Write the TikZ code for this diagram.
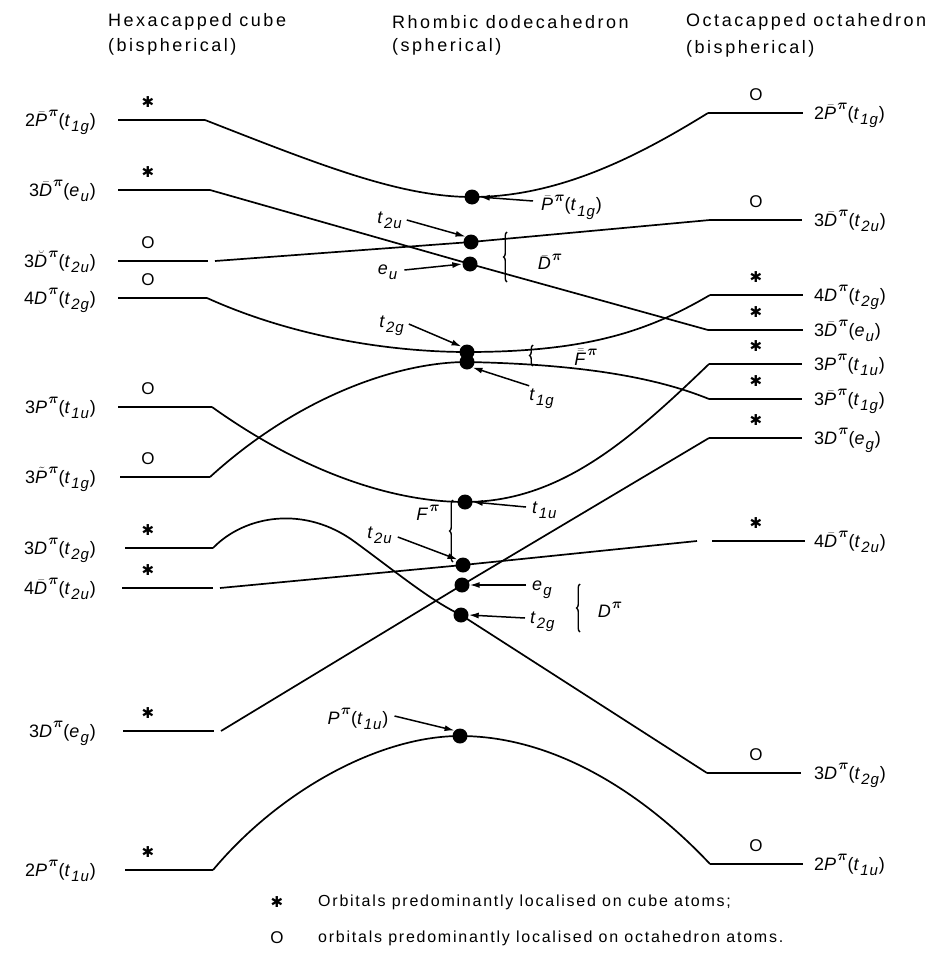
\documentclass[tikz,border=0pt]{standalone}
\usepackage{fontspec}
\setmainfont{Liberation Sans}
\newfontfamily\djv{DejaVu Sans}
\usetikzlibrary{arrows.meta,decorations.pathreplacing}
\usepackage{amsmath,bm}
\newcommand\tb[1]{\ensuremath{\bar{\mbox{\textit{#1}}}}}
\newcommand\tbb[1]{\ensuremath{\bar{\bar{\mbox{\textit{#1}}}}}}
\newcommand\tbr[1]{\ensuremath{\breve{\mbox{\textit{#1}}}}}
\newcommand\ttl[1]{\ensuremath{\tilde{\mbox{\textit{#1}}}}}
\newcommand\pip{\raisebox{1.0ex}{\fontsize{15}{15}\selectfont$\bm{\pi}$}}
\newcommand\qn[2]{\textit{#1}\raisebox{-0.55ex}{\fontsize{15}{15}\selectfont\textit{#2}}}
\newcommand\cubemk{{\djv\bfseries\fontsize{15}{15}\selectfont ✱}}
\begin{document}
\begin{tikzpicture}[x=1pt,y=-1pt,
  level/.style={line width=2pt},
  conn/.style={line width=1.7pt},
  dot/.style={circle,fill,inner sep=0pt,minimum size=15pt},
  lab/.style={font=\fontsize{18}{21}\selectfont\addfontfeature{LetterSpace=6},inner sep=0pt},
  hdr/.style={font=\fontsize{18}{21}\selectfont\addfontfeature{LetterSpace=14},inner sep=0pt,anchor=west},
  leg/.style={font=\fontsize{16}{19}\selectfont\addfontfeature{LetterSpace=11},inner sep=0pt,anchor=west},
  occ/.style={font=\fontsize{17}{17}\selectfont,inner sep=0pt},
  arr/.style={-{Latex[length=10pt,width=6pt]},line width=1.5pt},
  brc/.style={decorate,decoration={brace,amplitude=3.5pt},line width=1.4pt}]
\useasboundingbox (0,0) rectangle (946,966);

% headers
\node[hdr] (h1) at (108,22) {Hexacapped cube};
\node[hdr] (h1b) at (108,47) {(bispherical)};
\node[hdr] (h2) at (392,22) {Rhombic dodecahedron};
\node[hdr] (h2b) at (392,47) {(spherical)};
\node[hdr] (h3) at (686,22) {Octacapped octahedron};
\node[hdr] (h3b) at (686,49) {(bispherical)};

% left levels
\foreach \n/\a/\b/\y in {1/118/205/120, 2/118/210/190, 3/118/208/261, 4/118/207/298, 5/118/212/407,
  6/120/210/477, 7/125/213/548, 8/122/213/588, 9/123/214/731, 10/125/213/870}{
  \coordinate (la\n) at (\a,\y);
  \coordinate (lb\n) at (\b,\y);
  \draw[level] (la\n) -- (lb\n);
}
% right levels
\foreach \n/\a/\b/\y in {1/708/803/113, 2/710/802/220, 3/710/803/295, 4/708/803/330, 5/709/802/364,
  6/709/802/399, 7/709/802/438, 8/712/805/541, 9/707/801/773, 10/710/803/864}{
  \coordinate (ra\n) at (\a,\y);
  \coordinate (rb\n) at (\b,\y);
  \draw[level] (ra\n) -- (rb\n);
}

% left labels
\node[lab,anchor=base east] (lt1) at (96,126) {2\tb{P}\pip(\qn{t}{1g})};
\node[lab,anchor=base east] (lt2) at (96,196) {3\tb{D}\pip(\qn{e}{u})};
\node[lab,anchor=base east] (lt3) at (96,267) {3\tbr{D}\pip(\qn{t}{2u})};
\node[lab,anchor=base east] (lt4) at (96,304) {4\textit{D}\pip(\qn{t}{2g})};
\node[lab,anchor=base east] (lt5) at (96,413) {3\textit{P}\pip(\qn{t}{1u})};
\node[lab,anchor=base east] (lt6) at (96,483) {3\ttl{P}\pip(\qn{t}{1g})};
\node[lab,anchor=base east] (lt7) at (96,554) {3\textit{D}\pip(\qn{t}{2g})};
\node[lab,anchor=base east] (lt8) at (96,594) {4\tb{D}\pip(\qn{t}{2u})};
\node[lab,anchor=base east] (lt9) at (96,737) {3\textit{D}\pip(\qn{e}{g})};
\node[lab,anchor=base east] (lt10) at (96,876) {2\textit{P}\pip(\qn{t}{1u})};

% right labels
\node[lab,anchor=base west] (rt1) at (814,119) {2\tb{P}\pip(\qn{t}{1g})};
\node[lab,anchor=base west] (rt2) at (814,226) {3\tb{D}\pip(\qn{t}{2u})};
\node[lab,anchor=base west] (rt3) at (814,301) {4\textit{D}\pip(\qn{t}{2g})};
\node[lab,anchor=base west] (rt4) at (814,336) {3\tb{D}\pip(\qn{e}{u})};
\node[lab,anchor=base west] (rt5) at (814,370) {3\textit{P}\pip(\qn{t}{1u})};
\node[lab,anchor=base west] (rt6) at (814,405) {3\tb{P}\pip(\qn{t}{1g})};
\node[lab,anchor=base west] (rt7) at (814,444) {3\textit{D}\pip(\qn{e}{g})};
\node[lab,anchor=base west] (rt8) at (814,547) {4\tb{D}\pip(\qn{t}{2u})};
\node[lab,anchor=base west] (rt9) at (814,779) {3\textit{D}\pip(\qn{t}{2g})};
\node[lab,anchor=base west] (rt10) at (814,870) {2\textit{P}\pip(\qn{t}{1u})};

% occupancy marks
\foreach \y/\m in {120/\cubemk, 190/\cubemk, 261/O, 298/O, 407/O, 477/O, 548/\cubemk, 588/\cubemk, 731/\cubemk, 870/\cubemk}
  \node[occ] at (148,\y-18) {\m};
\foreach \y/\m in {113/O, 220/O, 295/\cubemk, 330/\cubemk, 364/\cubemk, 399/\cubemk, 438/\cubemk, 541/\cubemk, 773/O, 864/O}
  \node[occ] at (756,\y-18) {\m};

% central states
\node[dot] (cP1) at (472,197) {};
\node[dot] (cT2u) at (471,242) {};
\node[dot] (cEu) at (470,264) {};
\node[dot] (cT2g) at (467,352) {};
\node[dot] (cT1g) at (467,362) {};
\node[dot] (cT1u) at (465,502) {};
\node[dot] (cT2ub) at (463,565) {};
\node[dot] (cEg) at (462,585) {};
\node[dot] (cT2gb) at (461,615) {};
\node[dot] (cP0) at (460,736) {};

% gap ends
\coordinate (g3) at (215,261);
\coordinate (g8) at (220,588);
\coordinate (g9) at (221,731);
\coordinate (g8r) at (697,541);

% correlation lines
\draw[conn] (lb1) .. controls (320,165) and (400,197) .. (cP1.center)
  .. controls (560,197) and (640,155) .. (ra1);
\draw[conn] (lb2) -- (cEu.center) -- (ra4);
\draw[conn] (g3) -- (cT2u.center) -- (ra2);
\draw[conn] (lb4) .. controls (300,340) and (400,352) .. (cT2g.center)
  .. controls (590,352) and (650,330) .. (ra3);
\draw[conn] (lb5) .. controls (300,470) and (390,502) .. (cT1u.center)
  .. controls (560,502) and (630,440) .. (ra5);
\draw[conn] (lb6) .. controls (300,395) and (400,362) .. (cT1g.center)
  .. controls (570,364) and (650,375) .. (ra6);
\draw[conn] (lb7) .. controls (245,515) and (305,505) .. (355,542)
  .. controls (400,575) and (430,600) .. (cT2gb.center) -- (ra9);
\draw[conn] (g8) -- (cT2ub.center) -- (g8r);
\draw[conn] (g9) -- (cEg.center) -- (ra7);
\draw[conn] (lb10) .. controls (280,790) and (380,736) .. (cP0.center)
  .. controls (560,736) and (650,800) .. (ra10);

% central labels and arrows
\node[lab,anchor=west] (aP1) at (541,207) {\tb{P}\pip(\qn{t}{1g})};
\draw[arr] (533,201) -- (cP1.east);
\node[lab] (aT2u) at (390,220) {\qn{t}{2u}};
\draw[arr] (aT2u.east) ++(4,0) -- (cT2u.north west);
\node[lab] (aEu) at (388,272) {\qn{e}{u}};
\draw[arr] (aEu.east) ++(6,-2) -- (cEu.west);
\draw[brc] (507,282) -- (507,232);
\node[lab] (aDb) at (550,262) {\tb{D}\pip};
\node[lab] (aT2g) at (392,326) {\qn{t}{2g}};
\draw[arr] (aT2g.east) ++(4,-2) -- (cT2g.north west);
\node[lab] (aT1g) at (542,399) {\qn{t}{1g}};
\draw[arr] (aT1g.north west) ++(0,-3) -- (cT1g.south east);
\draw[brc] (533,366) -- (533,345);
\node[lab] (aFb) at (586,357) {\tbb{F}\pip};
\node[lab,anchor=west] (aT1u) at (532,510) {\qn{t}{1u}};
\draw[arr] (aT1u.west) ++(-6,-3) -- (cT1u.east);
\draw[brc] (453,562) -- (453,500);
\node[lab] (aF) at (428,513) {\textit{F}\pip};
\node[lab] (aT2ub) at (380,535) {\qn{t}{2u}};
\draw[arr] (aT2ub.east) ++(5,2) -- (cT2ub.north west);
\node[lab,anchor=west] (aEg) at (532,590) {\qn{e}{g}};
\draw[arr] (aEg.west) ++(-6,-5) -- (cEg.east);
\node[lab,anchor=west] (aT2gb) at (530,622) {\qn{t}{2g}};
\draw[arr] (aT2gb.west) ++(-5,-4) -- (cT2gb.east);
\draw[brc] (580,632) -- (580,584);
\node[lab] (aD) at (610,610) {\textit{D}\pip};
\node[lab] (aP0) at (358,719) {\textit{P}\pip(\qn{t}{1u})};
\draw[arr] (aP0.east) ++(6,-3) -- (cP0.north west);

% legend
\node[occ] (k1) at (277,902) {\cubemk};
\node[leg] (k1t) at (318,902) {Orbitals predominantly localised on cube atoms;};
\node[occ] (k2) at (277,938) {O};
\node[leg] (k2t) at (318,938) {orbitals predominantly localised on octahedron atoms.};
\end{tikzpicture}
\end{document}
